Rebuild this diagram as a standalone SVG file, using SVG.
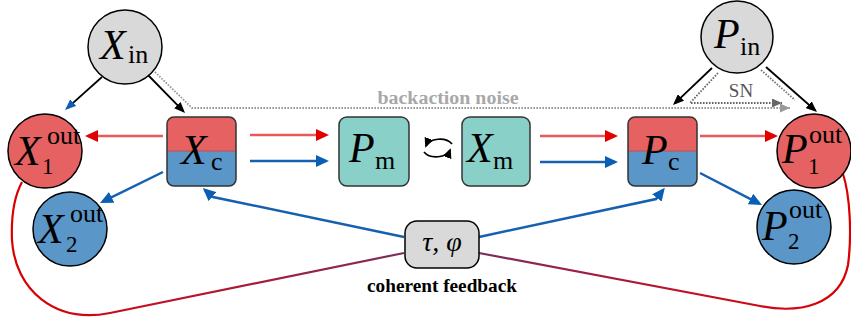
<svg xmlns="http://www.w3.org/2000/svg" width="851" height="320" viewBox="0 0 851 320">
<style>
.c{stroke:#000;stroke-width:1.5}
.gray{fill:#d9d9d9}
.red{fill:#e66161}
.blue{fill:#5a96c8}
.teal{fill:#88d0c8;stroke:#333;stroke-width:1.5}
.box{fill:none;stroke:#333;stroke-width:1.5}
.L{font-family:"Liberation Serif",serif;font-style:italic;font-size:42px;fill:#000}
.s{font-style:normal;font-size:26px}
.d{font-style:normal;font-size:23px}
.ar{stroke:#e85a5a;stroke-width:2.5;fill:none}
.ab{stroke:#1561b0;stroke-width:2.5;fill:none}
.ak{stroke:#000;stroke-width:1.8;fill:none}
.dot{fill:none;stroke-width:1.8;stroke-dasharray:1.6 1.4}
</style>
<defs>
<marker id="mr" markerUnits="userSpaceOnUse" markerWidth="13" markerHeight="12" refX="10" refY="6" orient="auto"><path d="M0,0 L13,6 L0,12 z" fill="#e00000"/></marker>
<marker id="mb" markerUnits="userSpaceOnUse" markerWidth="13" markerHeight="12" refX="10" refY="6" orient="auto"><path d="M0,0 L13,6 L0,12 z" fill="#0a5fb4"/></marker>
<marker id="mk" markerUnits="userSpaceOnUse" markerWidth="11" markerHeight="9" refX="8.5" refY="4.5" orient="auto"><path d="M0,0 L11,4.5 L0,9 z" fill="#000"/></marker>
<marker id="mbs" markerUnits="userSpaceOnUse" markerWidth="11" markerHeight="9" refX="8.5" refY="4.5" orient="auto"><path d="M0,0 L11,4.5 L0,9 z" fill="#0a5fb4"/></marker>
<marker id="mgd" markerUnits="userSpaceOnUse" markerWidth="10" markerHeight="9" refX="10" refY="4.5" orient="auto"><path d="M0,0 L10,4.5 L0,9 z" fill="#666"/></marker>
<marker id="mgl" markerUnits="userSpaceOnUse" markerWidth="10" markerHeight="9" refX="10" refY="4.5" orient="auto"><path d="M0,0 L10,4.5 L0,9 z" fill="#999"/></marker>
<marker id="msw" markerUnits="userSpaceOnUse" markerWidth="10" markerHeight="9" refX="8" refY="4.5" orient="auto"><path d="M0,0 L10,4.5 L0,9 z" fill="#000"/></marker>
<linearGradient id="gl" gradientUnits="userSpaceOnUse" x1="20" y1="0" x2="404" y2="0"><stop offset="0" stop-color="#d80000"/><stop offset="0.35" stop-color="#c30f25"/><stop offset="1" stop-color="#7b2d5e"/></linearGradient>
<linearGradient id="gr" gradientUnits="userSpaceOnUse" x1="479" y1="0" x2="845" y2="0"><stop offset="0" stop-color="#7b2d5e"/><stop offset="0.6" stop-color="#c30f25"/><stop offset="1" stop-color="#d80000"/></linearGradient>
</defs>

<g id="connectors">
<path d="M404,253 L110,313 C55,324 15,290 12,240 C11,215 15,195 22,182" fill="none" stroke="url(#gl)" stroke-width="2.2"/>
<path d="M479,253 L760,306 C800,314 840,305 848,265 C852,235 850,195 843,174" fill="none" stroke="url(#gr)" stroke-width="2.2"/>
<path class="ab" d="M404,237 L213,197 L205,190" stroke-width="2.2" marker-end="url(#mb)"/>
<path class="ab" d="M479,237 L656,199 L663,190" stroke-width="2.2" marker-end="url(#mb)"/>
<path class="dot" stroke="#999" d="M155,72 L192,108 L790,108" marker-end="url(#mgl)"/>
<path class="dot" stroke="#666" d="M718,73 L690,103 L782,103" marker-end="url(#mgd)"/>
<path class="dot" stroke="#777" d="M761,70 L795,100"/>
<path class="ak" d="M148,75 L183.3,111.2" marker-end="url(#mk)"/>
<path class="ak" d="M102,77 L66.9,108.3" marker-end="url(#mbs)"/>
<path class="ak" d="M712,68 L674.8,103.3" marker-end="url(#mk)"/>
<path class="ak" d="M766,67 L815.1,110.3" marker-end="url(#mk)"/>
<path class="ar" d="M163,136 L88,136" marker-end="url(#mr)"/>
<path class="ab" d="M163,172 L102.7,201.7" marker-end="url(#mb)"/>
<path class="ar" d="M250,135 L326,135" marker-end="url(#mr)"/>
<path class="ab" d="M250,161 L326,161" marker-end="url(#mb)"/>
<path class="ar" d="M540,136 L615,136" marker-end="url(#mr)"/>
<path class="ab" d="M540,162 L615,162" marker-end="url(#mb)"/>
<path class="ar" d="M700,136 L775,136" marker-end="url(#mr)"/>
<path class="ab" d="M700,173 L759.3,203.6" marker-end="url(#mb)"/>
<path d="M452,144 A14,9 0 0 0 426,146" fill="none" stroke="#000" stroke-width="1.7" marker-end="url(#msw)"/>
<path d="M424,152 A14,9 0 0 0 450,150" fill="none" stroke="#000" stroke-width="1.7" marker-end="url(#msw)"/>
</g>

<g id="Xin">
<circle class="c gray" cx="125" cy="47" r="37"/>
<text class="L" x="100" y="59">X<tspan class="s" x="128" y="63">in</tspan></text>
</g>
<g id="Pin">
<circle class="c gray" cx="737" cy="37" r="36"/>
<text class="L" x="714" y="48">P<tspan class="s" x="740" y="55">in</tspan></text>
</g>
<g id="X1out">
<circle class="c red" cx="45" cy="151" r="37"/>
<text class="L" x="15" y="165">X<tspan class="s" x="47" y="144">out</tspan><tspan class="d" x="42" y="174">1</tspan></text>
</g>
<g id="X2out">
<circle class="c blue" cx="70" cy="229" r="37"/>
<text class="L" x="38" y="243">X<tspan class="s" x="70" y="222">out</tspan><tspan class="d" x="66" y="252">2</tspan></text>
</g>
<g id="P1out">
<circle class="c red" cx="814" cy="151" r="37"/>
<text class="L" x="782" y="163">P<tspan class="s" x="809" y="143">out</tspan><tspan class="d" x="808" y="174">1</tspan></text>
</g>
<g id="P2out">
<circle class="c blue" cx="794" cy="227" r="37"/>
<text class="L" x="762" y="240">P<tspan class="s" x="789" y="218">out</tspan><tspan class="d" x="788" y="249">2</tspan></text>
</g>
<g id="Xc">
<rect class="blue" x="167" y="117" width="69" height="69" rx="7"/>
<path class="red" d="M167,151 V124 Q167,117 174,117 H229 Q236,117 236,124 V151 Z"/>
<line x1="167" y1="151" x2="236" y2="151" stroke="#c84a4a" stroke-width="1"/>
<rect class="box" x="167" y="117" width="69" height="69" rx="7"/>
<text class="L" x="181" y="164">X<tspan class="s" x="211" y="170">c</tspan></text>
</g>
<g id="Pc">
<rect class="blue" x="628" y="117" width="69" height="69" rx="7"/>
<path class="red" d="M628,151 V124 Q628,117 635,117 H690 Q697,117 697,124 V151 Z"/>
<line x1="628" y1="151" x2="697" y2="151" stroke="#c84a4a" stroke-width="1"/>
<rect class="box" x="628" y="117" width="69" height="69" rx="7"/>
<text class="L" x="642" y="164">P<tspan class="s" x="668" y="170">c</tspan></text>
</g>
<g id="Pm">
<rect class="teal" x="339" y="117" width="70" height="69" rx="8"/>
<text class="L" x="349" y="162">P<tspan class="s" x="375" y="169">m</tspan></text>
</g>
<g id="Xm">
<rect class="teal" x="462" y="117" width="68" height="69" rx="8"/>
<text class="L" x="467" y="162">X<tspan class="s" x="493" y="169">m</tspan></text>
</g>
<g id="feedback">
<rect x="405" y="221" width="74" height="47" rx="12" fill="#d9d9d9" stroke="#000" stroke-width="1.5"/>
<text x="442" y="251" text-anchor="middle" font-family="Liberation Serif,serif" font-style="italic" font-size="28">τ, φ</text>
</g>
<text x="442" y="292" text-anchor="middle" font-family="Liberation Serif,serif" font-weight="bold" font-size="18" textLength="150" lengthAdjust="spacingAndGlyphs">coherent feedback</text>
<text x="448" y="104" text-anchor="middle" font-family="Liberation Serif,serif" font-weight="bold" font-size="18" fill="#a8a8a8" textLength="141" lengthAdjust="spacingAndGlyphs">backaction noise</text>
<text x="741" y="97" text-anchor="middle" font-family="Liberation Serif,serif" font-size="19" fill="#555">SN</text>
</svg>
